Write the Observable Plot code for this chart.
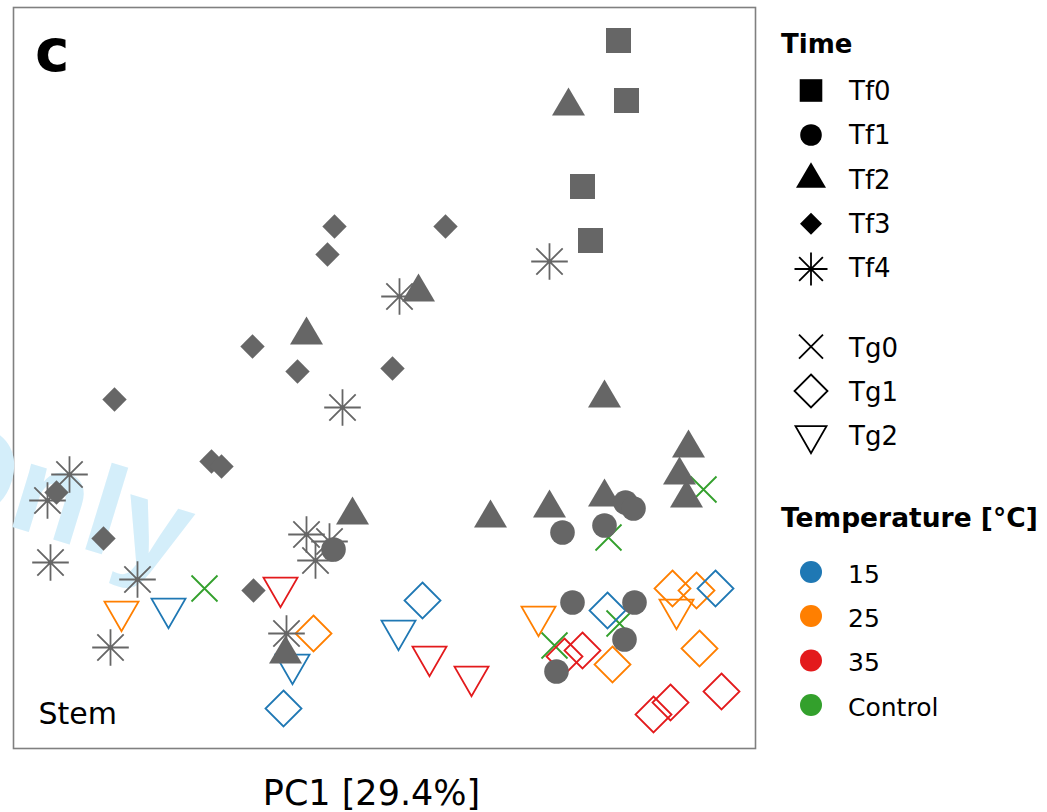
<!DOCTYPE html>
<html><head><meta charset="utf-8">
<script src="https://cdn.jsdelivr.net/npm/d3@7"></script>
<script src="https://cdn.jsdelivr.net/npm/@observablehq/plot@0.6"></script>
<style>html,body{margin:0;padding:0;background:#fff;} svg{display:block;}</style>
</head><body><div id="chart"></div>
<script>
// PC1 / PC2 scores (arbitrary units)
const tf0 = [[23.4,33.8],[24.2,27.8],[19.8,19.2],[20.6,13.8]];
const tf1 = [[24.1,-12.4],[24.9,-13.0],[17.8,-15.4],[22.0,-14.7],[18.8,-22.4],[25.0,-22.4],[24.0,-26.1],[17.2,-29.3],[-5.1,-17.1]];
const tf2 = [[18.4,27.7],[3.4,9.1],[-7.8,4.8],[22.0,-1.5],[30.4,-6.5],[29.5,-9.2],[30.2,-11.5],[22.0,-11.4],[16.5,-12.5],[10.6,-13.5],[-3.2,-13.2],[-9.9,-27.1]];
const tf3 = [[-5.0,15.2],[-5.7,12.4],[-13.2,3.2],[-8.7,0.7],[6.1,15.2],[0.8,1.0],[-27.0,-2.1],[-17.3,-8.3],[-16.3,-8.8],[-32.8,-11.4],[-28.1,-16.0],[-13.1,-21.2]];
const tf4 = [[16.5,11.7],[1.5,8.2],[-4.2,-2.9],[-31.5,-9.6],[-33.7,-12.2],[-33.4,-18.4],[-24.7,-20.1],[-27.4,-26.9],[-7.8,-15.6],[-5.5,-16.3],[-6.9,-18.2],[-9.8,-25.5]];
const tg0_control = [[-18.0,-21.0],[22.4,-15.9],[31.9,-11.1],[17.0,-26.7],[23.5,-24.5]];
const tg1_15 = [[3.8,-22.2],[22.3,-23.2],[33.1,-21.0],[-10.1,-33.0]];
const tg1_25 = [[-7.1,-25.5],[28.8,-21.0],[31.2,-21.2],[22.8,-28.6],[31.5,-27.0]];
const tg1_35 = [[18.0,-27.8],[19.8,-27.2],[26.9,-33.6],[28.6,-32.4],[33.7,-31.3]];
const tg2_15 = [[-21.6,-23.5],[1.4,-25.7],[-9.2,-29.1]];
const tg2_25 = [[-26.3,-23.8],[15.4,-24.3],[29.2,-23.6]];
const tg2_35 = [[-10.4,-21.4],[4.5,-28.3],[8.7,-30.3]];

const timeLabels = ["Tf0","Tf1","Tf2","Tf3","Tf4","Tg0","Tg1","Tg2"];
const tempLabels = ["15","25","35","Control"];
const tempColors = ["#1f78b4","#ff7f00","#e31a1c","#33a02c"];
const GRAY = "#666666";

function sym(fn){ return {draw(c, size){ const r = Math.sqrt(size/Math.PI); fn(c, r); }}; }
const S = {
  square: sym((c,r)=>{ c.rect(-r,-r,2*r,2*r); }),
  circle: sym((c,r)=>{ c.moveTo(r,0); c.arc(0,0,r,0,2*Math.PI); c.closePath(); }),
  triUp: sym((c,r)=>{ const h=0.85*r; c.moveTo(0,-h); c.lineTo(r,h); c.lineTo(-r,h); c.closePath(); }),
  triDown: sym((c,r)=>{ const h=0.87*r; c.moveTo(-r,-h); c.lineTo(r,-h); c.lineTo(0,h); c.closePath(); }),
  diamond: sym((c,r)=>{ c.moveTo(0,-r); c.lineTo(r,0); c.lineTo(0,r); c.lineTo(-r,0); c.closePath(); }),
  star: sym((c,r)=>{ const d=0.72*r; c.moveTo(-r,0); c.lineTo(r,0); c.moveTo(0,-r); c.lineTo(0,r); c.moveTo(-d,-d); c.lineTo(d,d); c.moveTo(-d,d); c.lineTo(d,-d); }),
  times: sym((c,r)=>{ c.moveTo(-r,-r); c.lineTo(r,r); c.moveTo(-r,r); c.lineTo(r,-r); })
};

const pts = (arr, temp) => arr.map(([x,y]) => ({x, y, temp}));
const tg0 = pts(tg0_control, "Control");
const tg1 = [...pts(tg1_25,"25"), ...pts(tg1_35,"35"), ...pts(tg1_15,"15")];
const tg2 = [...pts(tg2_25,"25"), ...pts(tg2_35,"35"), ...pts(tg2_15,"15")];

const plot = Plot.plot({
  width: 1047, height: 812,
  marginLeft: 13, marginRight: 292, marginTop: 7, marginBottom: 64,
  style: {background: "white", fontFamily: "DejaVu Sans", overflow: "visible"},
  x: {domain: [-37.1, 37.1], axis: null},
  y: {domain: [-37.0, 37.1], axis: null},
  color: {type: "ordinal", domain: tempLabels, range: tempColors},
  marks: [
    Plot.frame({stroke: "#808080", strokeWidth: 1.6}),
    Plot.dot(tg0, {x: "x", y: "y", stroke: "temp", fill: "none", symbol: S.times, r: 13, strokeWidth: 1.8}),
    Plot.dot(tg1, {x: "x", y: "y", stroke: "temp", fill: "none", symbol: S.diamond, r: 18, strokeWidth: 1.8}),
    Plot.dot(tg2, {x: "x", y: "y", stroke: "temp", fill: "none", symbol: S.triDown, r: 17, strokeWidth: 1.8}),
    Plot.dot(tf4, {x: d => d[0], y: d => d[1], stroke: GRAY, fill: "none", symbol: S.star, r: 18.3, strokeWidth: 1.8}),
    Plot.dot(tf3, {x: d => d[0], y: d => d[1], fill: GRAY, stroke: "none", symbol: S.diamond, r: 12.2}),
    Plot.dot(tf0, {x: d => d[0], y: d => d[1], fill: GRAY, stroke: "none", symbol: S.square, r: 12.5}),
    Plot.dot(tf2, {x: d => d[0], y: d => d[1], fill: GRAY, stroke: "none", symbol: S.triUp, r: 16.5}),
    Plot.dot(tf1, {x: d => d[0], y: d => d[1], fill: GRAY, stroke: "none", symbol: S.circle, r: 12.3})
  ]
});
document.getElementById("chart").appendChild(plot);

const svg = d3.select(plot);
const FONT = "DejaVu Sans";

// watermark, above the frame but below the markers
const ns = "http://www.w3.org/2000/svg";
const wm = document.createElementNS(ns, "text");
wm.textContent = "Only";
wm.setAttribute("transform", "translate(-89,496) rotate(17)");
wm.setAttribute("style", "font-family:'Liberation Sans';font-weight:bold;font-size:125px;fill:#d4eefa;text-anchor:start;");
const frameEl = plot.querySelector('[aria-label="frame"]');
if (frameEl) frameEl.after(wm); else plot.insertBefore(wm, plot.firstChild.nextSibling);

function txt(x, y, s, size, weight, anchor) {
  svg.append("text").attr("x", x).attr("y", y).text(s)
    .attr("style", `font-family:'${FONT}';font-size:${size}px;font-weight:${weight||"normal"};fill:#000;text-anchor:${anchor||"start"};`);
}
txt(35, 71, "c", 58, "bold");
txt(38.5, 724, "Stem", 30);
txt(371.5, 805, "PC1 [29.4%]", 35, "normal", "middle");

// legend: Time
txt(781, 53, "Time", 26, "bold");
const legSyms = [
  {s: S.square, r: 11.3, filled: true, cy: 90.5, by: 100},
  {s: S.circle, r: 10.8, filled: true, cy: 135, by: 144.3},
  {s: S.triUp, r: 15, filled: true, cy: 175, by: 189},
  {s: S.diamond, r: 11, filled: true, cy: 223.7, by: 233.3},
  {s: S.star, r: 16.5, filled: false, cy: 269, by: 277.3},
  {s: S.times, r: 12, filled: false, cy: 346.7, by: 356.5},
  {s: S.diamond, r: 16.5, filled: false, cy: 391, by: 400.5},
  {s: S.triDown, r: 15.5, filled: false, cy: 439.6, by: 445}
];
legSyms.forEach((d, i) => {
  svg.append("path")
    .attr("d", d3.symbol().type(d.s).size(Math.PI * d.r * d.r)())
    .attr("transform", `translate(811,${d.cy})`)
    .attr("fill", d.filled ? "#000" : "none")
    .attr("stroke", d.filled ? "none" : "#000")
    .attr("stroke-width", 1.8);
  txt(849, d.by, timeLabels[i], 26);
});

// legend: Temperature
txt(781, 526.5, "Temperature [°C]", 26.5, "bold");
const tempY = [572, 616, 660.5, 705];
const tempB = [583, 626.7, 671, 715.7];
tempLabels.forEach((t, i) => {
  svg.append("circle").attr("cx", 811).attr("cy", tempY[i]).attr("r", 11).attr("fill", tempColors[i]);
  txt(848, tempB[i], t, 25);
});
</script>
</body></html>
